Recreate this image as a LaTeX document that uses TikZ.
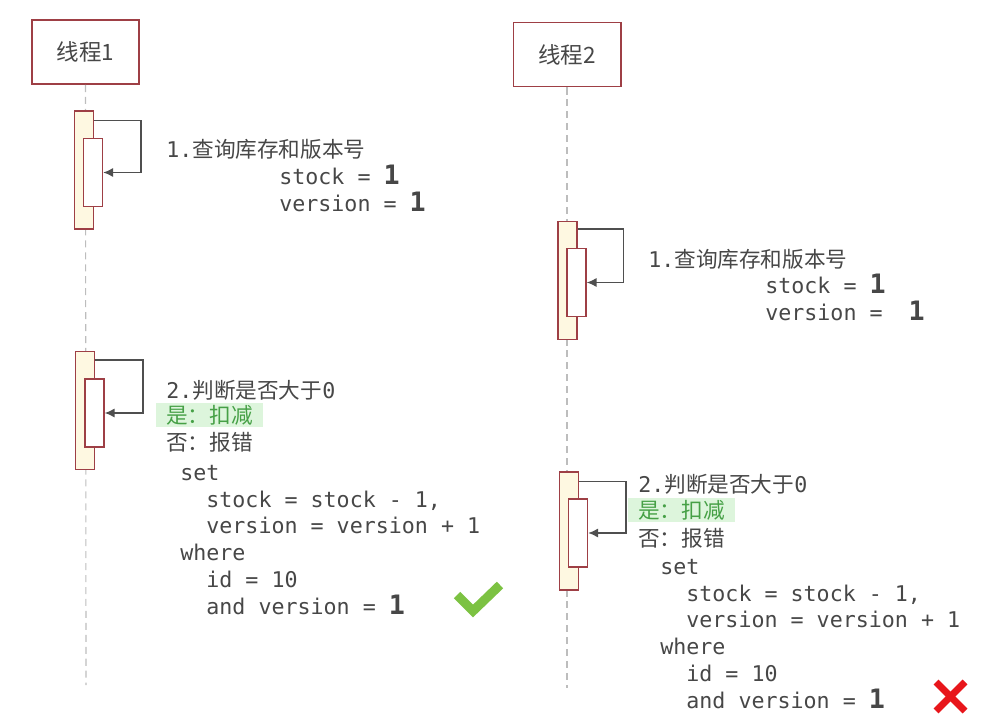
\documentclass[tikz,border=0pt]{standalone}
\usepackage{fontspec}
\setmainfont{DejaVu Sans}
\setmonofont{DejaVu Sans Mono}
\newfontfamily\cjk{Noto Sans CJK SC}
\usepackage{xcolor}
\usetikzlibrary{arrows.meta,positioning}

\definecolor{lifered}{HTML}{9E3F45}
\definecolor{actfill}{HTML}{FEF8E1}
\definecolor{txtgray}{HTML}{474747}
\definecolor{callgray}{HTML}{4F4F4F}
\definecolor{linegray}{HTML}{BDBDBD}
\definecolor{hlgreen}{HTML}{DDF5DC}
\definecolor{yesgreen}{HTML}{46A046}
\definecolor{okgreen}{HTML}{7CC242}
\definecolor{badred}{HTML}{E8161B}

\newcommand{\bignum}[1]{{\fontsize{19}{19}\selectfont\bfseries #1}}

\begin{document}
\begin{tikzpicture}[
    x=0.025cm,
    y=-0.025cm,
    >={Latex[length=7pt,width=6.5pt]},
    font=\ttfamily\fontsize{15.4}{19}\selectfont,
    text=txtgray,
    thread/.style={
		rectangle,
		draw=lifered,
		line width=1.4pt,
		fill=white,
		text centered,
		minimum height=1.6cm,
		minimum width=2.675cm,
		font=\cjk\fontsize{16}{19}\selectfont
	},
	activ/.style={
		rectangle,
		draw=lifered,
		line width=0.9pt,
		fill=actfill,
		minimum height=2.95cm,
		minimum width=0.47cm
	},
	subactiv/.style={
		rectangle,
		draw=lifered,
		line width=0.9pt,
		fill=white,
		minimum height=1.7cm,
		minimum width=0.48cm
	},
	selfcall/.style={
		->,
		draw=callgray,
		line width=1pt
	},
	lifeline/.style={
		draw=linegray,
		line width=0.8pt,
		dash pattern=on 5pt off 3.5pt
	},
	note/.style={
		anchor=base west,
		inner sep=0pt,
		align=left
	},
	yesnote/.style={
		note,
		fill=hlgreen,
		text=yesgreen,
		inner xsep=0.25cm,
		inner ysep=1.5pt,
		text width=2.175cm
	}
  ]

\useasboundingbox (0,0) rectangle (1002,717);

% // threads
\node [thread] (thread1) at (85.5,52) {线程1};
\node [thread] (thread2) at (567,54.5) {线程2};

\coordinate (end1) at (86,685);
\coordinate (end2) at (567,688);
\draw [lifeline] (thread1.south) -- (end1);
\draw [lifeline] (thread2.south) -- (end2);

% // thread 1, step 1
\node [activ] (act1a) at (84,170) {};
\node [subactiv] (act1a sub) at (93,172.5) {};
\draw [selfcall] ([yshift=-0.25cm]act1a.north east) -- ++(47,0) |- (act1a sub.east);

\node [note] (cap1a) at (166,157) {1.{\cjk 查询库存和版本号}};
% multi-line notes: base = last line
\node [note] (val1a) at (279,211) {stock = \bignum{1}\\version = \bignum{1}};

% // thread 1, step 2
\node [activ] (act1b) at (85,410.5) {};
\node [subactiv] (act1b sub) at (94.5,413) {};
\draw [selfcall] ([yshift=-0.225cm]act1b.north east) -- ++(48,0) |- (act1b sub.east);

\node [note] (cap1b) at (166,398) {2.{\cjk 判断是否大于}0};
\node [yesnote] (yes1b) at (156,423) {\cjk 是：扣减};
\node [note] (no1b) at (166,450) {\cjk 否：报错};
\node [note] (sql1b) at (180,614)
 {%
  set\\
  \hphantom{xx}stock = stock - 1,\\
  \hphantom{xx}version = version + 1\\
  where\\
  \hphantom{xx}id = 10\\
  \hphantom{xx}and version = \bignum{1}
 };

% // thread 2, step 1
\node [activ] (act2a) at (567.5,280.5) {};
\node [subactiv] (act2a sub) at (576.5,282.5) {};
\draw [selfcall] ([yshift=-0.2cm]act2a.north east) -- ++(46,0) |- (act2a sub.east);

\node [note] (cap2a) at (648,267) {1.{\cjk 查询库存和版本号}};
\node [note] (val2a) at (765,320) {stock = \bignum{1}\\version =\ \ \bignum{1}};

% // thread 2, step 2
\node [activ] (act2b) at (569,531) {};
\node [subactiv] (act2b sub) at (578,533) {};
\draw [selfcall] ([yshift=-0.25cm]act2b.north east) -- ++(47,0) |- (act2b sub.east);

\node [note] (cap2b) at (638,492) {2.{\cjk 判断是否大于}0};
\node [yesnote] (yes2b) at (628,518) {\cjk 是：扣减};
\node [note] (no2b) at (638,546) {\cjk 否：报错};
\node [note] (sql2b) at (660,708)
 {%
  set\\
  \hphantom{xx}stock = stock - 1,\\
  \hphantom{xx}version = version + 1\\
  where\\
  \hphantom{xx}id = 10\\
  \hphantom{xx}and version = \bignum{1}
 };

% // results
\draw [okgreen, line width=6.5pt] (457,595) -- (473,611) -- (500,585);
\draw [badred, line width=5pt] (936,682) -- (965,711);
\draw [badred, line width=5pt] (965,682) -- (936,711);

\end{tikzpicture}
\end{document}
